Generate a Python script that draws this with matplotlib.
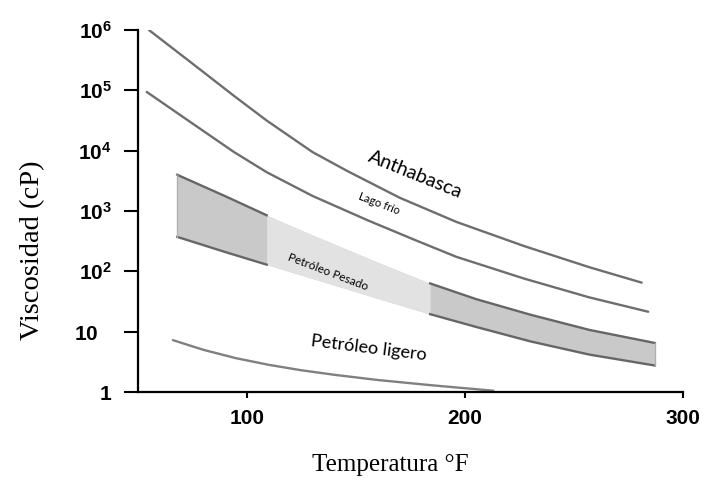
import matplotlib
matplotlib.use("Agg")
import matplotlib.pyplot as plt
from matplotlib.transforms import ScaledTranslation

plt.rcParams['mathtext.fontset'] = 'custom'
plt.rcParams['mathtext.bf'] = 'Liberation Sans:bold'
plt.rcParams['mathtext.rm'] = 'Liberation Sans:bold'

# Data (temperature °F, viscosity cP)
anth_x = [55, 79, 94, 109, 130, 146, 170, 196, 227, 257, 281]
anth_y = [1.0e6, 2.14e5, 8.1e4, 3.16e4, 9.5e3, 4.6e3, 1.66e3, 660, 263, 117, 65]

lago_x = [54, 79, 94, 109, 130, 155, 177, 196, 227, 257, 284]
lago_y = [9.4e4, 2.24e4, 9.5e3, 4.4e3, 1.78e3, 710, 331, 174, 76, 37, 21.4]

heavy_x = [68, 90, 109, 130, 160, 184, 205, 230, 257, 287]
heavy_upper = [3980, 1760, 850, 400, 141, 63, 34.7, 19.1, 10.7, 6.5]
heavy_lower = [372, 209, 129, 76, 35.5, 19.5, 12.0, 6.9, 4.17, 2.75]

light_x = [66, 80, 95, 110, 125, 140, 160, 185, 213]
light_y = [7.24, 5.0, 3.63, 2.82, 2.29, 1.93, 1.58, 1.29, 1.05]

x_ticks = [100, 200, 300]
x_tick_labels = ['100', '200', '300']
y_ticks = [1, 10, 1e2, 1e3, 1e4, 1e5, 1e6]
y_tick_labels = [r'$\mathbf{1}$', r'$\mathbf{10}$', r'$\mathbf{10^{2}}$', r'$\mathbf{10^{3}}$',
                 r'$\mathbf{10^{4}}$', r'$\mathbf{10^{5}}$', r'$\mathbf{10^{6}}$']

fig = plt.figure(figsize=(7.06, 4.83), dpi=100)
ax = fig.add_axes([0.1955, 0.1884, 0.772, 0.7495])

line_col = '#6e6e6e'
band_line = '#666666'
ax.plot(anth_x, anth_y, color=line_col, lw=1.7, zorder=2, solid_capstyle='round')
ax.plot(lago_x, lago_y, color=line_col, lw=1.7, zorder=2, solid_capstyle='round')

# heavy-oil band, with a lighter labelled section (indices 2..5)
ax.fill_between(heavy_x, heavy_lower, heavy_upper, color='#c9c9c9', lw=0, zorder=1)
ax.fill_between(heavy_x[2:6], heavy_lower[2:6], heavy_upper[2:6], color='#e2e2e2', lw=0, zorder=1.5)
ax.plot(heavy_x[:3], heavy_upper[:3], color=band_line, lw=1.7, zorder=2)
ax.plot(heavy_x[:3], heavy_lower[:3], color=band_line, lw=1.7, zorder=2)
ax.plot(heavy_x[5:], heavy_upper[5:], color=band_line, lw=1.7, zorder=2)
ax.plot(heavy_x[5:], heavy_lower[5:], color=band_line, lw=1.7, zorder=2)
ax.plot([heavy_x[0], heavy_x[0]], [heavy_lower[0], heavy_upper[0]], color='#b0b0b0', lw=1.0, zorder=2)
ax.plot([heavy_x[-1], heavy_x[-1]], [heavy_lower[-1], heavy_upper[-1]], color='#b0b0b0', lw=1.0, zorder=2)

ax.plot(light_x, light_y, color='#808080', lw=1.7, zorder=2, solid_capstyle='round')

lab_font = 'Lato'
ax.text(177, 4.0e3, 'Anthabasca', rotation=-22, fontsize=14, family=lab_font,
        ha='center', va='center', zorder=5,
        bbox=dict(boxstyle='square,pad=0.15', fc='white', ec='none'))
ax.text(160.5, 1.35e3, 'Lago frío', rotation=-21, fontsize=8, family=lab_font,
        ha='center', va='center', zorder=4,
        bbox=dict(boxstyle='square,pad=0.4', fc='white', ec='none'))
ax.text(137, 98, 'Petróleo Pesado', rotation=-21, fontsize=8.5, family=lab_font,
        ha='center', va='center', zorder=4)
ax.text(156, 5.4, 'Petróleo ligero', rotation=-7, fontsize=13, family=lab_font,
        ha='center', va='center', zorder=4,
        bbox=dict(boxstyle='square,pad=0.15', fc='white', ec='none'))

ax.set_yscale('log')
ax.set_xlim(50, 300)
ax.set_ylim(1, 1e6)
ax.set_xticks(x_ticks)
ax.set_xticklabels(x_tick_labels, fontweight='bold', fontsize=15, family='Liberation Sans')
ax.set_yticks(y_ticks)
ax.set_yticklabels(y_tick_labels, fontsize=15)
ax.minorticks_off()
ax.tick_params(axis='y', length=10, width=1.5, direction='out', pad=9)
ax.tick_params(axis='x', length=4.5, width=1.5, direction='out', pad=8)

# the "10" label sits a little further left in the original
lbl10 = ax.yaxis.get_major_ticks()[1].label1
lbl10.set_transform(lbl10.get_transform() + ScaledTranslation(-13 / 100, 0, fig.dpi_scale_trans))

for s in ['top', 'right']:
    ax.spines[s].set_visible(False)
for s in ['left', 'bottom']:
    ax.spines[s].set_linewidth(1.6)
    ax.spines[s].set_color('black')

ax.set_xlabel('Temperatura °F', family='Liberation Serif', fontsize=18)
ax.set_ylabel('Viscosidad (cP)', family='Liberation Serif', fontsize=20.5)
ax.xaxis.set_label_coords(0.462, -0.17)
ax.yaxis.set_label_coords(-0.171, 0.392)

fig.savefig('out.png', dpi=100)
